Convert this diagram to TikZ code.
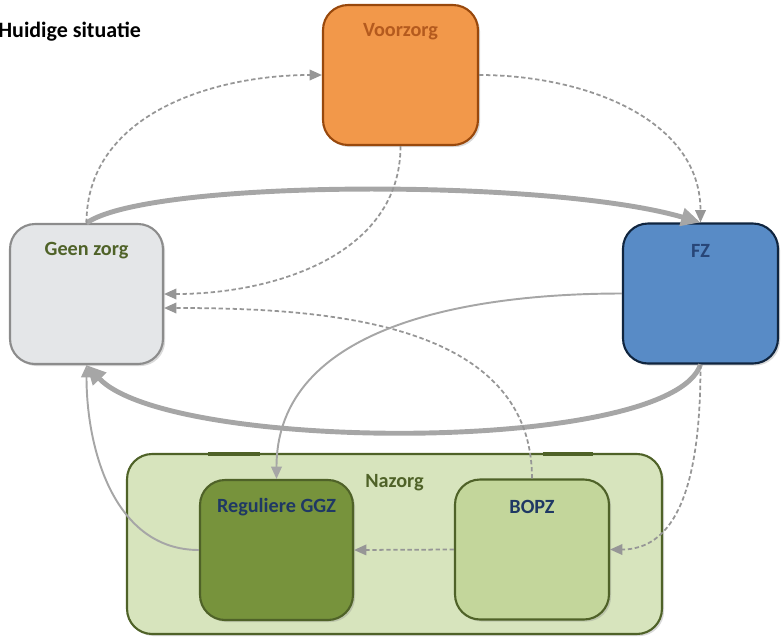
\documentclass[tikz,border=0pt]{standalone}
\usepackage{fontspec}
\setmainfont{Carlito}
\usepackage{xcolor}
\usetikzlibrary{arrows.meta,shadows}

\definecolor{vzfill}{RGB}{242,152,74}
\definecolor{vzdraw}{RGB}{152,72,12}
\definecolor{vztext}{RGB}{180,90,30}
\definecolor{gzfill}{RGB}{228,230,232}
\definecolor{gzdraw}{RGB}{140,140,140}
\definecolor{fzfill}{RGB}{88,139,198}
\definecolor{fzdraw}{RGB}{16,37,63}
\definecolor{fztext}{RGB}{40,70,120}
\definecolor{nzgreen}{RGB}{79,98,40}
\definecolor{nzfill}{RGB}{215,228,189}
\definecolor{ggzfill}{RGB}{119,147,60}
\definecolor{bopzfill}{RGB}{195,214,155}
\definecolor{navytext}{RGB}{31,56,100}
\definecolor{arrowgray}{RGB}{166,166,166}
\definecolor{dashgray}{RGB}{150,150,150}

\tikzset{
  box/.style={draw, rounded corners=0.5cm, line width=1.2pt,
    minimum width=3.1cm, minimum height=2.8cm,
    drop shadow={opacity=0.3,shadow xshift=1.2pt,shadow yshift=-1.2pt}},
  boxlabel/.style={font=\bfseries\fontsize{11.5}{14}\selectfont, anchor=center, yshift=-0.56cm},
  dashline/.style={draw=dashgray, line width=1pt, dash pattern=on 2.5pt off 1.5pt,
    -{Triangle[length=7pt,width=6pt]}},
  thinline/.style={draw=arrowgray, line width=1.1pt, -{Triangle[length=7pt,width=6pt]}},
  thickline/.style={draw=arrowgray, line width=2.8pt, -{Triangle[length=11pt,width=10pt]}}
}

\begin{document}
\begin{tikzpicture}[x=0.02cm, y=0.02cm]
\useasboundingbox (0,0) rectangle (782,-637);
\node (0) at (-2,-32) [anchor=west, inner sep=0pt, font=\bfseries\fontsize{12.5}{15}\selectfont] {Huidige situatie};
\node (1) at (400.5,-75) [box, fill=vzfill, draw=vzdraw, label={[boxlabel,text=vztext]north:Voorzorg}] {};
\node (2) at (86.5,-294) [box, minimum width=3.06cm, fill=gzfill, draw=gzdraw, label={[boxlabel,text=nzgreen]north:Geen zorg}] {};
\node (3) at (700.5,-293.5) [box, fill=fzfill, draw=fzdraw, label={[boxlabel,text=fztext]north:FZ}] {};
\node (4) at (394.5,-544) [box, minimum width=10.7cm, minimum height=3.6cm, fill=nzfill, draw=nzgreen, label={[boxlabel,yshift=-0.03cm,text=nzgreen]north:Nazorg}] {};
\node (5) at (276.5,-550) [box, minimum width=3.06cm, fill=ggzfill, draw=nzgreen, label={[boxlabel,text=navytext]north:Reguliere GGZ}] {};
\node (6) at (532,-549.5) [box, minimum width=3.08cm, fill=bopzfill, draw=nzgreen, label={[boxlabel,text=navytext]north:BOPZ}] {};
\draw[line width=2.5pt, nzgreen] (208,-454) -- (260,-454);
\draw[line width=2.5pt, nzgreen] (543,-454) -- (593,-454);
\draw[thickline] (2.north) .. controls +(63,44) and +(-150,44) .. (3.north);
\draw[thickline] (3.south) .. controls +(-30,-90) and +(83,-88) .. (2.south);
\draw[dashline] (2.north) to[out=90,in=180] (1.west);
\draw[dashline] (1.east) to[out=0,in=90] (3.north);
\draw[dashline] (1.south) to[out=-90,in=0] (2.east);
\draw[dashline] (6.north) to[out=90,in=0] ([yshift=-0.28cm]2.east);
\draw[thinline] (3.west) to[out=180,in=90] (5.north);
\draw[thinline] (5.west) to[out=180,in=-90] (2.south);
\draw[dashline] (6.west) -- (5.east);
\draw[dashline] (3.south) to[out=-90,in=0] (6.east);
\end{tikzpicture}
\end{document}
